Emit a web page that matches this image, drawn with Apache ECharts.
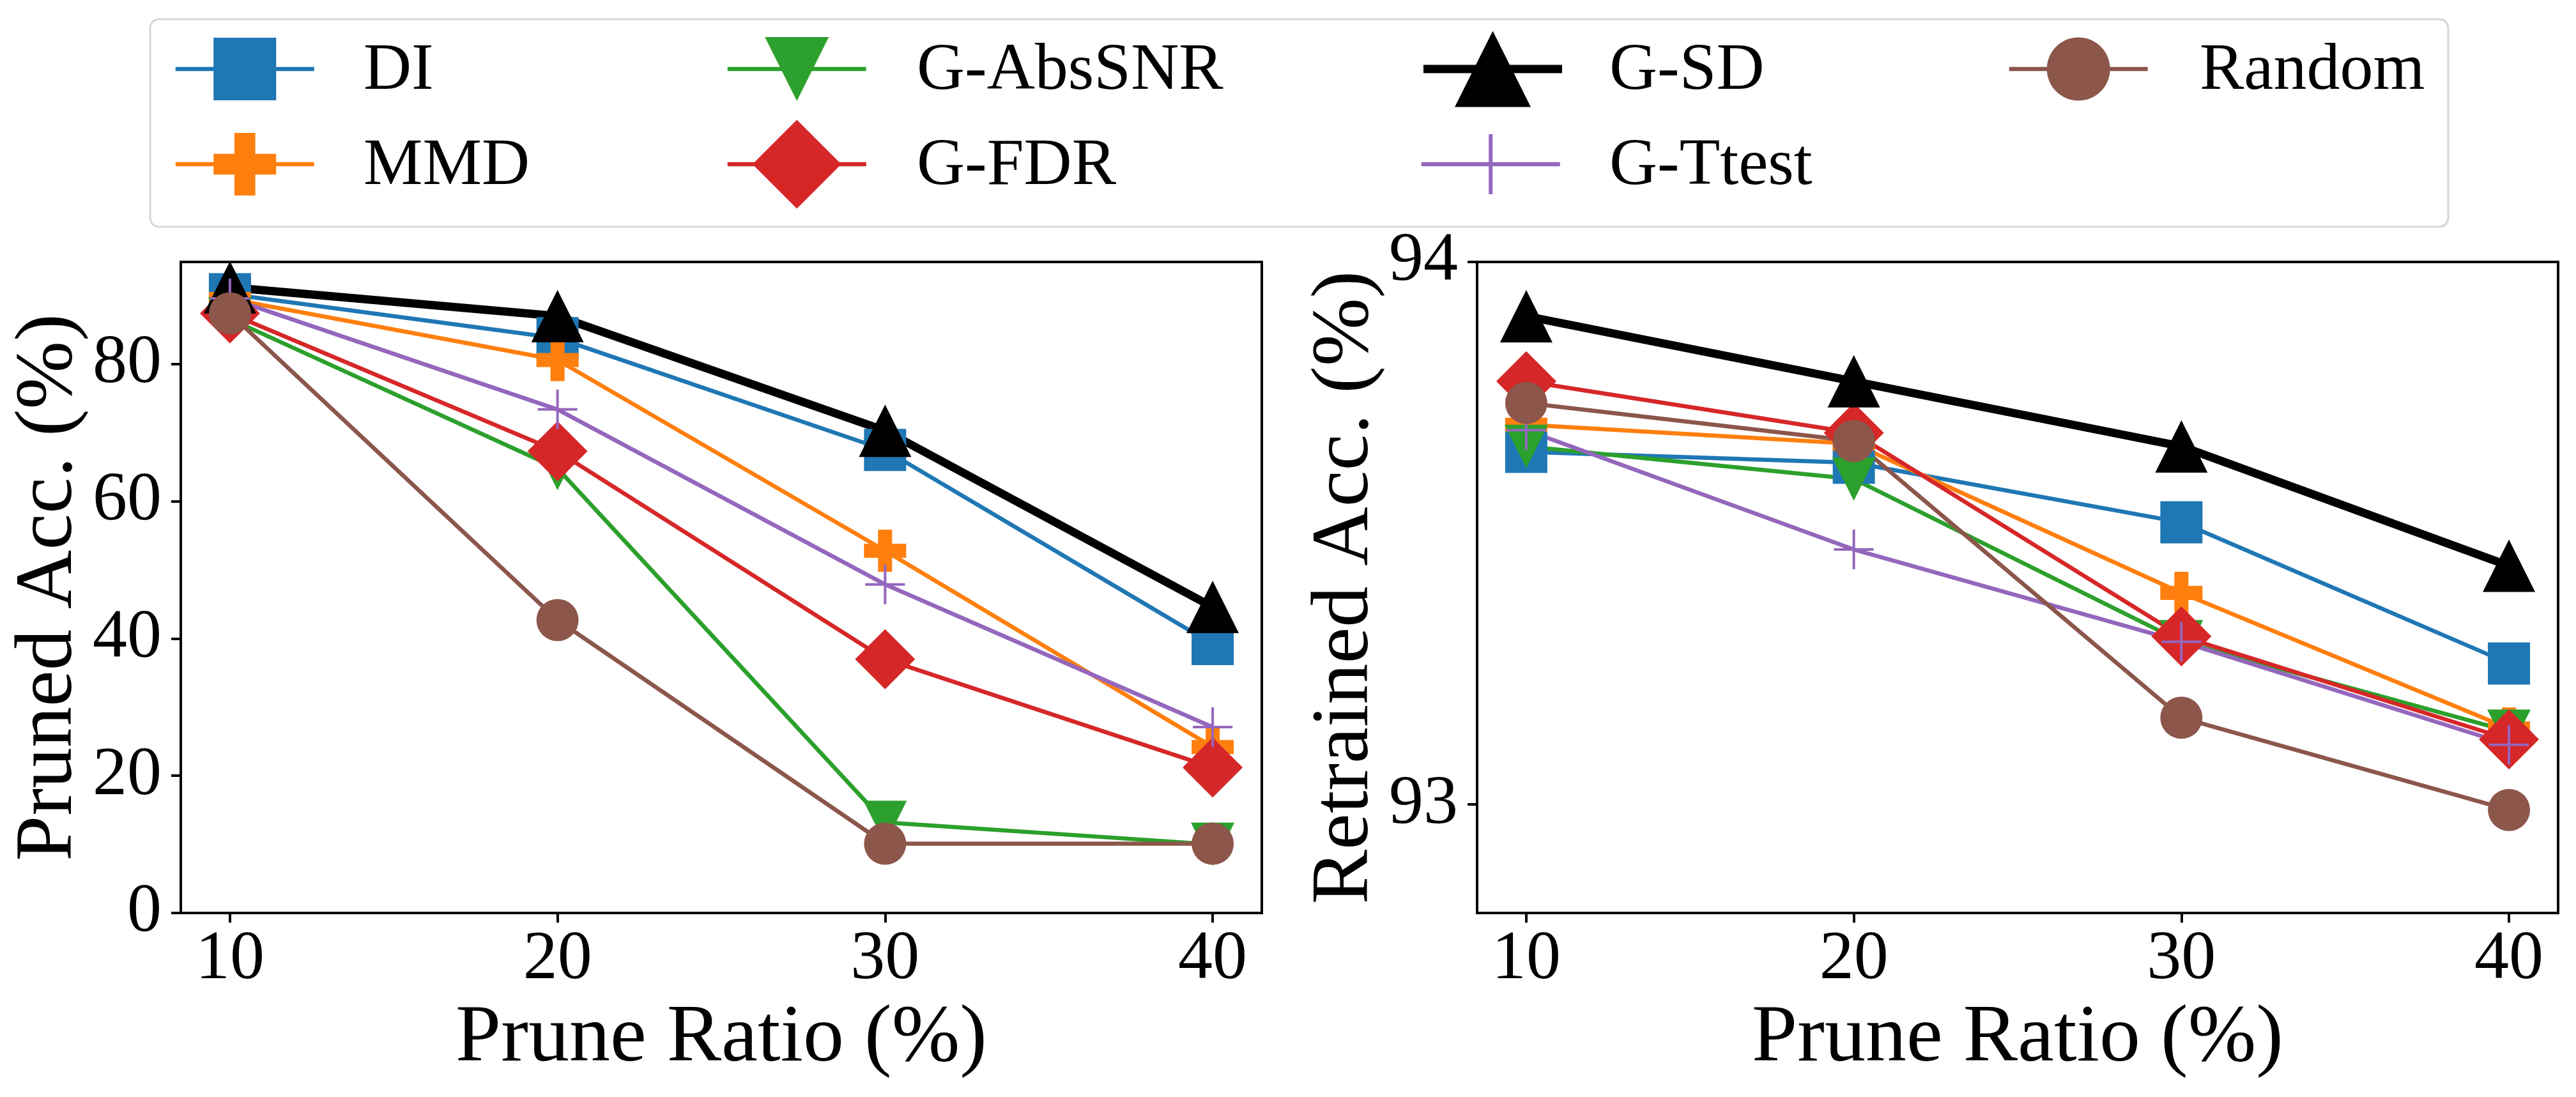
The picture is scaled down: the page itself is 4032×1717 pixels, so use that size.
<!DOCTYPE html>
<html><head><meta charset="utf-8">
<script src="https://cdn.jsdelivr.net/npm/echarts@6/dist/echarts.min.js"></script>
<style>html,body{margin:0;padding:0;background:#fff}#c{width:4032px;height:1717px}</style>
</head><body><div id="c"></div>
<script>
// ---------------- data ----------------
const ratios = [10, 20, 30, 40];
const methods = ['DI', 'MMD', 'G-AbsSNR', 'G-FDR', 'G-SD', 'G-Ttest', 'Random'];

const prunedDI      = [90.2, 83.8, 67.5, 39.2];
const prunedMMD     = [89.5, 80.6, 52.8, 24.2];
const prunedAbsSNR  = [86.6, 64.8, 13.2, 10.0];
const prunedFDR     = [87.4, 67.3, 37.0, 21.2];
const prunedSD      = [91.2, 87.0, 70.3, 44.6];
const prunedTtest   = [89.6, 73.4, 47.9, 27.1];
const prunedRandom  = [87.4, 42.7, 10.1, 10.1];

const retrainedDI     = [93.65, 93.63, 93.52, 93.26];
const retrainedMMD    = [93.70, 93.665, 93.39, 93.14];
const retrainedAbsSNR = [93.66, 93.60, 93.30, 93.135];
const retrainedFDR    = [93.78, 93.685, 93.31, 93.12];
const retrainedSD     = [93.90, 93.78, 93.66, 93.44];
const retrainedTtest  = [93.69, 93.47, 93.30, 93.11];
const retrainedRandom = [93.74, 93.67, 93.16, 92.99];

const xTicks = [10, 20, 30, 40];
const prunedTicks = [0, 20, 40, 60, 80];
const retrainedTicks = [93, 94];

const prunedData = [prunedDI, prunedMMD, prunedAbsSNR, prunedFDR, prunedSD, prunedTtest, prunedRandom];
const retrainedData = [retrainedDI, retrainedMMD, retrainedAbsSNR, retrainedFDR, retrainedSD, retrainedTtest, retrainedRandom];

// ---------------- styles ----------------
const FONT = "Liberation Serif";
const PLUS_FILLED = 'path://M1,0H2V1H3V2H2V3H1V2H0V1H1Z';
const PLUS_THIN = 'path://M0,14.5H31V16.5H0Z M14.5,0H16.5V31H14.5Z';
const styles = [
  {color: '#1f77b4', symbol: 'rect',      rot: 0,   size: 66, lsize: 98,  width: 6.5},
  {color: '#ff7f0e', symbol: PLUS_FILLED, rot: 0,   size: 66, lsize: 98,  width: 6.5},
  {color: '#2ca02c', symbol: 'triangle',  rot: 180, size: 68, lsize: 100, width: 6.5},
  {color: '#d62728', symbol: 'diamond',   rot: 0,   size: 94, lsize: 139, width: 6.5},
  {color: '#000000', symbol: 'triangle',  rot: 0,   size: 82, lsize: 119, width: 13},
  {color: '#9467bd', symbol: PLUS_THIN,   rot: 0,   size: 62, lsize: 94,  width: 6.5},
  {color: '#8c564b', symbol: 'circle',    rot: 0,   size: 66, lsize: 99,  width: 6.5}
];
// legend placement: marker centre x, row centre y, text start x
const legendPos = [[380,108,569],[380,257,569],[1244,108,1435],[1244,257,1435],[2330,108,2519],[2330,257,2519],[3250,108,3443]];

// ---------------- build ----------------
function makeSeries(dataArr, gi) {
  return methods.map((m, i) => ({
    type: 'line', name: m, xAxisIndex: gi, yAxisIndex: gi,
    data: ratios.map((r, k) => [r, dataArr[i][k]]),
    symbol: styles[i].symbol, symbolSize: styles[i].size, symbolRotate: styles[i].rot,
    showSymbol: true, clip: false,
    lineStyle: {color: styles[i].color, width: styles[i].width},
    itemStyle: {color: styles[i].color},
    emphasis: {disabled: true}, animation: false
  }));
}

function xAxis(gi) {
  return {
    type: 'value', gridIndex: gi, min: 8.5, max: 41.5,
    name: 'Prune Ratio (%)', nameLocation: 'middle', nameGap: 122,
    nameTextStyle: {fontSize: 128, fontFamily: FONT, color: '#000'},
    axisLine: {show: true, lineStyle: {color: '#000', width: 4}},
    axisTick: {show: true, length: 15, lineStyle: {color: '#000', width: 4}, customValues: xTicks},
    axisLabel: {fontSize: 108, fontFamily: FONT, color: '#000', margin: 20, customValues: xTicks},
    splitLine: {show: false}
  };
}
function yAxis(gi, min, max, ticks, name) {
  return {
    type: 'value', gridIndex: gi, min: min, max: max,
    name: name, nameLocation: 'middle', nameGap: 133,
    nameTextStyle: {fontSize: 128, fontFamily: FONT, color: '#000'},
    axisLine: {show: true, lineStyle: {color: '#000', width: 4}},
    axisTick: {show: true, length: 15, lineStyle: {color: '#000', width: 4}, customValues: ticks},
    axisLabel: {fontSize: 108, fontFamily: FONT, color: '#000', margin: 30, customValues: ticks},
    splitLine: {show: false}
  };
}

// legend icons from ECharts legend; legend names drawn as serif text elements
const legends = methods.map((m, i) => {
  const ih = styles[i].lsize / 0.8;
  return {
    data: [m], orient: 'vertical', selectedMode: false, padding: 0,
    left: legendPos[i][0] - 108.5, top: legendPos[i][1] - ih / 2,
    itemWidth: 217, itemHeight: ih,
    lineStyle: {width: styles[i].width, color: styles[i].color},
    formatter: function () { return ''; }
  };
});
const legendTexts = methods.map((m, i) => ({
  type: 'text', silent: true, z: 10,
  x: legendPos[i][2], y: legendPos[i][1] + 4,
  style: {text: m, fontSize: 104, fontFamily: FONT, fill: '#000', align: 'left', verticalAlign: 'middle'}
}));

const chart = echarts.init(document.getElementById('c'), null, {renderer: 'canvas', width: 4032, height: 1717});
chart.setOption({
  backgroundColor: '#ffffff',
  animation: false,
  textStyle: {fontFamily: FONT},
  graphic: [{
    type: 'rect', z: -10, silent: true,
    shape: {x: 235, y: 30, width: 3597, height: 325, r: 14},
    style: {fill: '#ffffff', stroke: '#d6d6d6', lineWidth: 3}
  }].concat(legendTexts),
  legend: legends,
  grid: [
    {left: 283, top: 410, width: 1692, height: 1019, show: true, borderColor: '#000', borderWidth: 4, backgroundColor: 'transparent'},
    {left: 2312, top: 410, width: 1692, height: 1019, show: true, borderColor: '#000', borderWidth: 4, backgroundColor: 'transparent'}
  ],
  xAxis: [xAxis(0), xAxis(1)],
  yAxis: [
    yAxis(0, 0, 94.9, prunedTicks, 'Pruned Acc. (%)'),
    yAxis(1, 92.8, 94.0, retrainedTicks, 'Retrained Acc. (%)')
  ],
  series: makeSeries(prunedData, 0).concat(makeSeries(retrainedData, 1))
});
</script></body></html>
